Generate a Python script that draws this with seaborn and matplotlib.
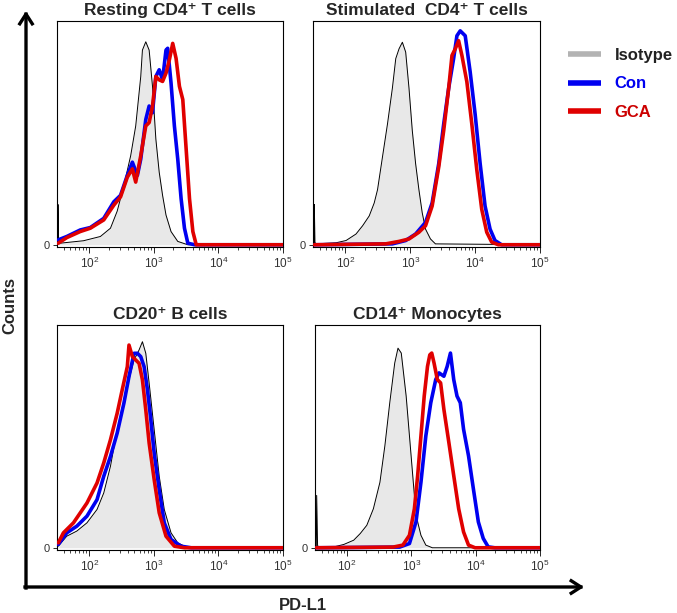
import numpy as np
import pandas as pd
import seaborn as sns
import matplotlib.pyplot as plt
from matplotlib.lines import Line2D
from matplotlib.ticker import FixedLocator, LogLocator, NullFormatter

# Histogram traces:
# x = log10(PD-L1 intensity), y = % of panel height

# Resting CD4+ T cells
rest_iso_x = [1.51, 1.515, 1.525, 1.547, 1.911, 2.172, 2.328, 2.432, 2.536, 2.641, 2.719, 2.797,
              2.823, 2.875, 2.927, 2.979, 3.031, 3.083, 3.135, 3.188, 3.266, 3.370, 3.526, 5.0]
rest_iso_y = [0, 18, 1, 0.7, 1.8, 3.7, 7.4, 15, 26.5, 39.8, 53.1, 75.2,
              87, 90.7, 87, 70.8, 47.2, 32.4, 22.1, 13.3, 5.9, 1.5, 0, 0]
rest_con_x = [1.52, 1.652, 1.859, 2.016, 2.224, 2.38, 2.484, 2.589, 2.667, 2.745, 2.797, 2.875, 2.927,
              2.979, 3.031, 3.083, 3.135, 3.188, 3.214, 3.266, 3.318, 3.37, 3.422, 3.474, 3.526, 3.63, 5.0]
rest_con_y = [2.2, 3.7, 6.6, 7.7, 11.8, 19.2, 22.1, 31, 36.9, 31, 38.3, 56, 62,
              59, 75.2, 78.2, 73.7, 87, 87.8, 72.3, 53.1, 38.3, 20.6, 7.4, 0.7, 0, 0]
rest_gca_x = [1.52, 1.652, 1.859, 2.016, 2.224, 2.38, 2.484, 2.589, 2.667, 2.719, 2.797, 2.875, 2.927, 2.979,
              3.031, 3.083, 3.135, 3.188, 3.24, 3.292, 3.344, 3.396, 3.448, 3.5, 3.552, 3.604, 3.656, 5.0]
rest_gca_y = [0.7, 3.2, 5.9, 7.4, 11.1, 17.7, 21.4, 30.2, 33.9, 28, 39.8, 53.1, 54.6, 62,
              75.2, 73.7, 73, 76.7, 82.6, 90, 83.3, 70.8, 64.9, 42.8, 20.6, 5.9, 0, 0]

# Stimulated CD4+ T cells
stim_iso_x = [1.515, 1.52, 1.53, 1.551, 1.857, 2.01, 2.163, 2.265, 2.367, 2.444, 2.495, 2.571, 2.648,
              2.724, 2.776, 2.827, 2.878, 2.929, 2.98, 3.031, 3.082, 3.133, 3.184, 3.235, 3.311, 3.388, 5.0]
stim_iso_y = [0, 18, 1, 0.4, 0.9, 1.9, 4.8, 8.5, 12.9, 18.7, 24.6, 39.2, 53.9,
              70, 83.2, 87.6, 90.5, 86.1, 70, 51, 36.3, 24.6, 14.3, 7, 2.6, 0.4, 0]
stim_con_x = [1.52, 2.724, 2.929, 3.082, 3.235, 3.337, 3.439, 3.515, 3.592, 3.668, 3.719,
              3.77, 3.847, 3.923, 4.0, 4.077, 4.153, 4.23, 4.306, 4.408, 5.0]
stim_con_y = [0, 0.4, 1.9, 4.8, 10, 18.7, 36.3, 53.9, 70, 83.2, 93.4,
              95.6, 93.4, 77.3, 58.3, 36.3, 17.3, 7, 1.9, 0, 0]
stim_gca_x = [1.52, 2.622, 2.827, 2.98, 3.133, 3.235, 3.337, 3.439, 3.515, 3.592, 3.643,
              3.694, 3.745, 3.796, 3.872, 3.949, 4.026, 4.102, 4.179, 4.255, 4.357, 5.0]
stim_gca_y = [0, 0.4, 1.5, 2.6, 5.6, 8.5, 17.3, 34.8, 51, 70, 84.6,
              87.6, 91.2, 84.6, 72.9, 53.9, 33.4, 15.8, 5.6, 1.2, 0, 0]

# CD20+ B cells
bcell_iso_x = [1.52, 1.651, 1.807, 1.964, 2.12, 2.224, 2.328, 2.432, 2.536, 2.615, 2.693,
               2.771, 2.823, 2.875, 2.927, 3.005, 3.083, 3.161, 3.266, 3.37, 3.526, 5.0]
bcell_iso_y = [0.7, 5.2, 7.5, 11.2, 17.2, 24.6, 36.6, 53, 64.9, 75.4, 84.3,
               88.8, 92.5, 87.3, 73.9, 53, 32.1, 17.2, 6.7, 2.2, 0, 0]
bcell_con_x = [1.52, 1.651, 1.807, 1.964, 2.12, 2.224, 2.328, 2.432, 2.536, 2.615, 2.693, 2.745,
               2.797, 2.849, 2.901, 2.953, 3.005, 3.083, 3.161, 3.266, 3.422, 3.578, 5.0]
bcell_con_y = [1.5, 6.7, 9.7, 14.2, 21.6, 32.1, 41, 51.5, 64.9, 76.9, 87.3, 87.3,
               85.8, 81.3, 70.9, 57.5, 42.5, 26.1, 11.2, 3.7, 0.7, 0, 0]
bcell_gca_x = [1.52, 1.599, 1.755, 1.964, 2.12, 2.224, 2.328, 2.432, 2.51, 2.589, 2.615, 2.667,
               2.719, 2.771, 2.823, 2.875, 2.927, 3.005, 3.083, 3.188, 3.318, 3.474, 5.0]
bcell_gca_y = [2.2, 6.7, 11.2, 20.1, 29.1, 38.1, 48.5, 60.4, 70.9, 81.3, 91, 85.8,
               84.3, 82.8, 75.4, 61.9, 47, 30.6, 15.7, 5.2, 0.7, 0, 0]

# CD14+ Monocytes
mono_iso_x = [1.52, 1.526, 1.54, 1.566, 1.796, 1.949, 2.102, 2.204, 2.306, 2.408, 2.51, 2.587, 2.663,
              2.74, 2.791, 2.842, 2.918, 2.995, 3.046, 3.097, 3.148, 3.224, 3.326, 5.0]
mono_iso_y = [0, 23.5, 1, 0, 0.4, 1.5, 3.4, 6.4, 10.1, 17.5, 29.4, 45.8, 65.1,
              82.9, 89.6, 87.4, 68.1, 41.3, 23.5, 11.6, 5.6, 1.2, 0, 0]
mono_con_x = [1.52, 2.816, 2.969, 3.071, 3.148, 3.224, 3.301, 3.378, 3.429, 3.505, 3.556, 3.607,
              3.658, 3.709, 3.76, 3.811, 3.888, 3.964, 4.041, 4.117, 4.194, 4.296, 5.0]
mono_con_y = [0, 0.3, 1.9, 11.6, 29.4, 50.2, 65.1, 75.5, 78.5, 77, 81.4, 87.4,
              75.5, 68.1, 65.1, 53.2, 41.3, 26.4, 11.6, 4.2, 0.4, 0, 0]
mono_gca_x = [1.52, 2.714, 2.867, 2.969, 3.046, 3.097, 3.148, 3.199, 3.25, 3.286, 3.316,
              3.352, 3.403, 3.454, 3.505, 3.582, 3.658, 3.735, 3.811, 3.888, 3.99, 5.0]
mono_gca_y = [0, 0.3, 1.2, 5.6, 17.5, 32.4, 50.2, 68.1, 81.4, 86.6, 87.4,
              82.9, 75.5, 74, 62.1, 47.3, 32.4, 17.5, 7.1, 1.2, 0, 0]

panel_titles = ["Resting CD4\u207a T cells", "Stimulated  CD4\u207a T cells",
                "CD20\u207a B cells", "CD14\u207a Monocytes"]
groups = ["Isotype", "Con", "GCA"]
tick_exponents = [2, 3, 4, 5]

sns.set_style("white")
plt.rcParams['font.family'] = ['Liberation Sans', 'DejaVu Sans']
plt.rcParams['mathtext.fontset'] = 'custom'
plt.rcParams['mathtext.rm'] = 'Liberation Sans'
plt.rcParams['mathtext.it'] = 'Liberation Sans:italic'
plt.rcParams['mathtext.bf'] = 'Liberation Sans:bold'

W, H = 677, 613
fig = plt.figure(figsize=(W / 100, H / 100), dpi=100)

# background layer for the big axis arrows (pixel coordinates)
bg = fig.add_axes([0, 0, 1, 1], zorder=0)
bg.set_xlim(0, W)
bg.set_ylim(H, 0)
bg.axis('off')
arrow_kw = dict(arrowstyle='->, head_length=0.7, head_width=0.45', lw=2.4, color='black',
                shrinkA=0, shrinkB=0, capstyle='projecting')
bg.annotate('', xy=(26, 11), xytext=(26, 588), arrowprops=arrow_kw)
bg.annotate('', xy=(584, 587), xytext=(25, 587), arrowprops=arrow_kw)
bg.text(10, 305, 'Counts', rotation=90, ha='center', va='center', fontsize=12, fontweight='bold')
bg.text(303, 605, 'PD-L1', ha='center', va='center', fontsize=12, fontweight='bold')

iso_fill = '#e8e8e8'
con_color = '#0000f0'
gca_color = '#e00000'


def px_box(left, right, top, bottom):
    return [left / W, 1 - bottom / H, (right - left) / W, (bottom - top) / H]


def draw_panel(box, title, iso, con, gca):
    ax = fig.add_axes(box, zorder=2)
    ix = 10 ** np.array(iso[0])
    ax.fill_between(ix, 0, iso[1], color=iso_fill, lw=0, zorder=1)
    sns.lineplot(x=ix, y=iso[1], ax=ax, color='black', lw=0.7,
                 estimator=None, sort=False, zorder=2)
    sns.lineplot(x=10 ** np.array(con[0]), y=con[1], ax=ax, color=con_color, lw=2.6,
                 estimator=None, sort=False, zorder=3)
    sns.lineplot(x=10 ** np.array(gca[0]), y=gca[1], ax=ax, color=gca_color, lw=2.6,
                 estimator=None, sort=False, zorder=4)
    ax.set_xscale('log')
    ax.set_xlim(10 ** 1.5, 10 ** 5)
    ax.set_ylim(-1, 100)
    ax.xaxis.set_major_locator(FixedLocator([10.0 ** e for e in tick_exponents]))
    ax.xaxis.set_minor_locator(LogLocator(base=10, subs=np.arange(2, 10)))
    ax.xaxis.set_minor_formatter(NullFormatter())
    ax.set_xticklabels([r'$10^{%d}$' % e for e in tick_exponents])
    ax.set_yticks([0])
    ax.set_yticklabels(['0'])
    ax.tick_params(axis='x', which='major', direction='out', length=4, width=0.7,
                   labelsize=8.5, labelcolor='#333333', pad=2, bottom=True)
    ax.tick_params(axis='x', which='minor', direction='out', length=2, width=0.6, bottom=True)
    ax.tick_params(axis='y', direction='out', length=3, width=0.7, labelsize=8,
                   labelcolor='#333333', pad=2, left=True)
    ax.set_xlabel('')
    ax.set_ylabel('')
    for sp in ax.spines.values():
        sp.set_visible(True)
        sp.set_color('black')
        sp.set_linewidth(0.8)
    ax.set_title(title, fontsize=12.5, fontweight='bold', pad=4)
    return ax


draw_panel(px_box(57, 283, 21, 247), panel_titles[0],
           (rest_iso_x, rest_iso_y), (rest_con_x, rest_con_y), (rest_gca_x, rest_gca_y))
draw_panel(px_box(313, 540, 21, 247), panel_titles[1],
           (stim_iso_x, stim_iso_y), (stim_con_x, stim_con_y), (stim_gca_x, stim_gca_y))
draw_panel(px_box(57, 283, 325, 550), panel_titles[2],
           (bcell_iso_x, bcell_iso_y), (bcell_con_x, bcell_con_y), (bcell_gca_x, bcell_gca_y))
draw_panel(px_box(315, 540, 325, 550), panel_titles[3],
           (mono_iso_x, mono_iso_y), (mono_con_x, mono_con_y), (mono_gca_x, mono_gca_y))

# legend
handles = [Line2D([], [], color='#b3b3b3', lw=4, solid_capstyle='butt'),
           Line2D([], [], color=con_color, lw=4, solid_capstyle='butt'),
           Line2D([], [], color=gca_color, lw=4, solid_capstyle='butt')]
leg = fig.legend(handles, groups, loc='upper left', bbox_to_anchor=(568 / W, 1 - 48 / H),
                 frameon=False, handlelength=2.0, handletextpad=0.8, labelspacing=0.8,
                 borderpad=0, borderaxespad=0,
                 prop={'size': 12, 'weight': 'bold'})
for txt, c in zip(leg.get_texts(), ['#222222', con_color, '#cc0000']):
    txt.set_color(c)

plt.savefig('out.png', dpi=100, facecolor='white')
plt.close()
